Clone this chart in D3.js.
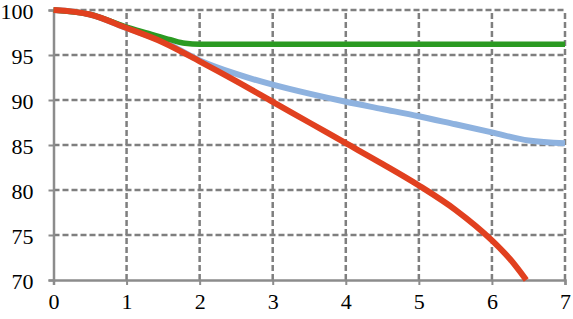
<!DOCTYPE html>
<html>
<head>
<meta charset="utf-8">
<script src="https://cdn.jsdelivr.net/npm/d3@7"></script>
<style>
  body { margin: 0; background: #fff; }
  svg text { font-family: "Liberation Serif", "DejaVu Serif", "Times New Roman", serif !important; }
</style>
</head>
<body>
<div id="chart"></div>
<script>
var xTicks = [0, 1, 2, 3, 4, 5, 6, 7];
var yTicks = [70, 75, 80, 85, 90, 95, 100];

var greenX = [0, 0.5, 1, 1.3, 1.6, 1.8, 2, 3, 4, 5, 6, 7];
var greenY = [100, 99.5, 98.1, 97.4, 96.7, 96.3, 96.2, 96.2, 96.2, 96.2, 96.2, 96.2];

var blueX = [0, 0.5, 1, 1.5, 2, 2.5, 3, 3.5, 4, 4.5, 5, 5.5, 6, 6.5, 7];
var blueY = [100, 99.5, 98, 96.5, 94.4, 92.9, 91.7, 90.7, 89.8, 89.0, 88.2, 87.3, 86.4, 85.5, 85.2];

var redX = [0, 0.5, 1, 1.5, 2, 2.5, 3, 3.5, 4, 4.5, 5, 5.5, 6, 6.25, 6.47];
var redY = [100, 99.5, 98, 96.4, 94.3, 92.1, 89.8, 87.5, 85.2, 82.9, 80.5, 77.8, 74.4, 72.3, 70];

var width = 573,
    height = 319;

var x = d3.scaleLinear().domain([0, 7]).range([53.5, 565]);
var y = d3.scaleLinear().domain([70, 100]).range([280, 10]);

var svg = d3.select("#chart").append("svg")
    .attr("width", width)
    .attr("height", height);

// grid
svg.append("g").selectAll("line")
    .data(yTicks.filter(function(d) { return d > 70; }))
    .enter().append("line")
    .attr("x1", x(0)).attr("x2", x(7))
    .attr("y1", function(d) { return y(d); })
    .attr("y2", function(d) { return y(d); })
    .attr("stroke", "#7f7f7f")
    .attr("stroke-width", 2.5)
    .attr("stroke-dasharray", "6,3");

svg.append("g").selectAll("line")
    .data(xTicks.filter(function(d) { return d > 0; }))
    .enter().append("line")
    .attr("y1", y(70)).attr("y2", y(100))
    .attr("x1", function(d) { return x(d); })
    .attr("x2", function(d) { return x(d); })
    .attr("stroke", "#7f7f7f")
    .attr("stroke-width", 2.5)
    .attr("stroke-dasharray", "6,3");

// axes
var xAxis = svg.append("g")
    .attr("transform", "translate(0," + y(70) + ")")
    .call(d3.axisBottom(x).tickValues(xTicks).tickSize(5).tickPadding(8).tickFormat(d3.format("d")));
var yAxis = svg.append("g")
    .attr("transform", "translate(" + x(0) + ",0)")
    .call(d3.axisLeft(y).tickValues(yTicks).tickSize(5).tickPadding(15).tickFormat(d3.format("d")));

[xAxis, yAxis].forEach(function(a) {
  a.attr("font-family", "Liberation Serif").attr("font-size", 22);
  a.select(".domain").attr("stroke", "#8c8c8c").attr("stroke-width", 2.5);
  a.selectAll(".tick line").attr("stroke", "#8c8c8c").attr("stroke-width", 2);
  a.selectAll(".tick text")
    .attr("font-family", "Liberation Serif")
    .attr("font-size", 22)
    .attr("fill", "#000");
});
yAxis.selectAll(".tick text").attr("dy", "0.38em");

// lines
var line = d3.line()
    .x(function(d) { return x(d[0]); })
    .y(function(d) { return y(d[1]); })
    .curve(d3.curveMonotoneX);

function series(xs, ys) {
  return xs.map(function(v, i) { return [v, ys[i]]; });
}

svg.append("path")
    .attr("d", line(series(blueX, blueY)))
    .attr("fill", "none").attr("stroke", "#8eb2df").attr("stroke-width", 6);
svg.append("path")
    .attr("d", line(series(greenX, greenY)))
    .attr("fill", "none").attr("stroke", "#2b9a22").attr("stroke-width", 5.5);
svg.append("path")
    .attr("d", line(series(redX, redY)))
    .attr("fill", "none").attr("stroke", "#e1401f").attr("stroke-width", 6);
</script>
</body>
</html>
